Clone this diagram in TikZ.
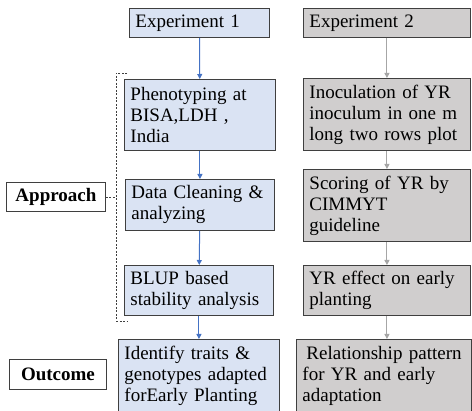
\documentclass[tikz,border=0pt]{standalone}
\usepackage{fontspec}
\setmainfont{Liberation Serif}
\usetikzlibrary{arrows.meta}

\definecolor{boxblue}{HTML}{DAE3F3}
\definecolor{boxgray}{HTML}{D0CECE}
\definecolor{lineblue}{HTML}{4472C4}
\definecolor{linegray}{HTML}{A6A6A6}
\definecolor{edge}{HTML}{3F3F3F}

\tikzset{
  box/.style={draw=edge, line width=0.9pt, anchor=north west, inner xsep=6pt,
    inner ysep=0pt, align=left, font=\fontsize{19}{21}\selectfont},
  bluebox/.style={box, fill=boxblue},
  graybox/.style={box, fill=boxgray},
  tagbox/.style={draw=edge, line width=0.9pt, fill=white, anchor=north west,
    inner sep=0pt, align=center, font=\fontsize{19}{21}\selectfont\bfseries},
  blueflow/.style={-{Triangle[length=5pt,width=5pt]}, lineblue, line width=1pt},
  grayflow/.style={-{Triangle[length=5pt,width=5pt]}, linegray, line width=1pt},
  bracket/.style={edge, line width=0.8pt, dash pattern=on 2pt off 1.5pt}
}

\begin{document}
\begin{tikzpicture}[x=1pt,y=1pt]
      \useasboundingbox (0,0) rectangle (472,-411);

      % left column
      \node[bluebox, text width=128pt, minimum height=29pt] (exp1) at (129,-8) {Experiment 1};
      \node[bluebox, text width=139pt, minimum height=71pt] (pheno) at (124,-79) {Phenotyping at\\BISA,LDH ,\\India};
      \node[bluebox, text width=137pt, minimum height=51pt] (clean) at (125,-179) {Data Cleaning \&\\analyzing};
      \node[bluebox, text width=137pt, minimum height=50pt] (blup) at (124,-265) {BLUP based\\stability analysis};
      \node[bluebox, text width=149pt, minimum height=72pt] (ident) at (118,-339) {Identify traits \&\\genotypes adapted\\forEarly Planting};

      % right column
      \node[graybox, text width=155pt, minimum height=29pt] (exp2) at (303,-8) {Experiment 2};
      \node[graybox, text width=155pt, minimum height=72pt] (inoc) at (303,-78) {Inoculation of YR\\inoculum in one m\\long two rows plot};
      \node[graybox, text width=155pt, minimum height=72pt] (score) at (303,-169) {Scoring of YR by\\CIMMYT\\guideline};
      \node[graybox, text width=155pt, minimum height=50pt] (yreff) at (303,-265) {YR effect on early\\planting};
      \node[graybox, text width=163pt, minimum height=72pt] (rel) at (296,-339) {\hspace*{4pt}Relationship pattern\\for YR and early\\adaptation};

      % row labels
      \node[tagbox, minimum width=99pt, minimum height=29pt] (approach) at (6,-182) {Approach};
      \node[tagbox, minimum width=97pt, minimum height=30pt] (outcome) at (9,-359) {Outcome};

      % arrows
      \draw[blueflow] (exp1) -- (pheno);
      \draw[blueflow] (pheno) -- (clean);
      \draw[blueflow] (clean) -- (blup);
      \draw[blueflow] (blup) -- (ident);

      \draw[grayflow] (exp2) -- (inoc);
      \draw[grayflow] (inoc) -- (score);
      \draw[grayflow] (score) -- (yreff);
      \draw[grayflow] (yreff.south) -- (yreff.south |- rel.north);

      % bracket round the approach steps
      \coordinate (brtop) at (116,-73);
      \coordinate (brbot) at (116,-321);
      \draw[bracket] (127,-73) -- (brtop) -- (brbot) -- (127,-321);
      \draw[bracket] (approach.east) -- (approach.east -| brtop);

\end{tikzpicture}
\end{document}
